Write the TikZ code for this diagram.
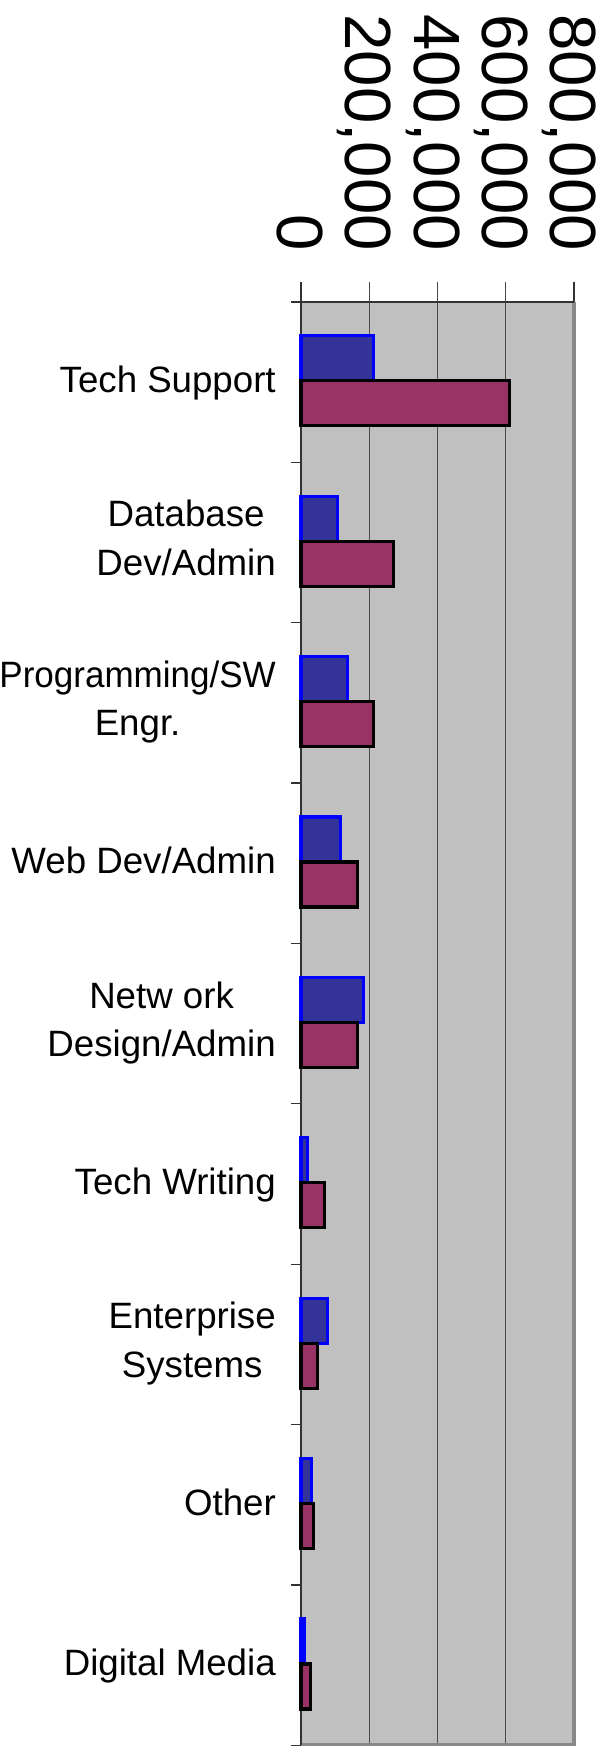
\documentclass[tikz,border=0pt]{standalone}
\usepackage{fontspec}
\setmainfont{Liberation Sans}
\definecolor{plotgray}{HTML}{C0C0C0}
\definecolor{gridgray}{HTML}{4A4A4A}
\definecolor{bordergray}{HTML}{888888}
\definecolor{axisgray}{HTML}{333333}
\definecolor{barblue}{HTML}{333399}
\definecolor{barred}{HTML}{993366}
\begin{document}
\begin{tikzpicture}[x=0.75pt,y=-0.75pt,
  catlab/.style={font=\fontsize{27.5}{36.4}\selectfont, align=center, anchor=north east, inner sep=0pt},
  ticklab/.style={font=\fontsize{49}{52}\selectfont, rotate=-90, anchor=base east, inner sep=0pt},
  gridline/.style={draw=gridgray, line width=1.1pt},
  axisline/.style={draw=axisgray, line width=1.6pt},
  tickline/.style={draw=axisgray, line width=0.9pt},
  bluebar/.style={fill=barblue, draw=blue, line width=2.4pt},
  redbar/.style={fill=barred, draw=black, line width=2.4pt},
]
\useasboundingbox (0,0) rectangle (613,1746);
% plot area
\fill[plotgray] (301,301.7) rectangle (574,1745);
\foreach \k in {1,2,3} {
  \draw[gridline] ({301+68.25*\k},281.7) -- ({301+68.25*\k},1745);
}
\draw[tickline] (574,281.7) -- (574,301.7);
\draw[draw=bordergray, line width=2.4pt] (574,301.7) -- (574,1745) -- (301,1745);
\draw[axisline] (291,301.7) -- (574,301.7);
\draw[axisline] (301,281.7) -- (301,1745);
\foreach \i in {1,...,9} {
  \draw[tickline] (291,{301.7+160.4*\i}) -- (301,{301.7+160.4*\i});
}
% bars
\foreach \b/\r [count=\i from 0] in {373.8/509.5, 337.5/393.8, 347.5/373.8, 340.8/357.2, 363.5/357.2, 307.8/324.5, 327.8/317.5, 311.2/313.8, 304.8/310.8} {
  \pgfmathsetmacro\ct{301.7+160.4*\i}
  \draw[bluebar] (301,{\ct+34}) rectangle (\b,{\ct+79});
  \draw[redbar] (301,{\ct+79}) rectangle (\r,{\ct+124});
}
% category labels
\node[catlab] (c1) at (276,{381.9-16}) {Tech Support};
\node[catlab] (c2) at (276,{542.3-42.2}) {Database\\Dev/Admin};
\node[catlab] (c3) at (276,{702.7-42.2}) {\scalebox{0.955}[1]{Programming/SW}\\Engr.};
\node[catlab] (c4) at (276,{863.1-16}) {Web Dev/Admin};
\node[catlab] (c5) at (276,{1023.5-42.2}) {Netw ork\\Design/Admin};
\node[catlab] (c6) at (276,{1183.9-16}) {Tech Writing};
\node[catlab] (c7) at (276,{1344.3-42.2}) {Enterprise\\Systems};
\node[catlab] (c8) at (276,{1504.7-16}) {Other};
\node[catlab] (c9) at (276,{1665.1-16}) {Digital Media};
% value axis labels
\node[ticklab] (v0) at ({301-23.4},251) {0};
\node[ticklab] (v1) at ({369.25-23.4},251) {200,000};
\node[ticklab] (v2) at ({437.5-23.4},251) {400,000};
\node[ticklab] (v3) at ({505.75-23.4},251) {600,000};
\node[ticklab] (v4) at ({574-23.4},251) {800,000};
\end{tikzpicture}
\end{document}
